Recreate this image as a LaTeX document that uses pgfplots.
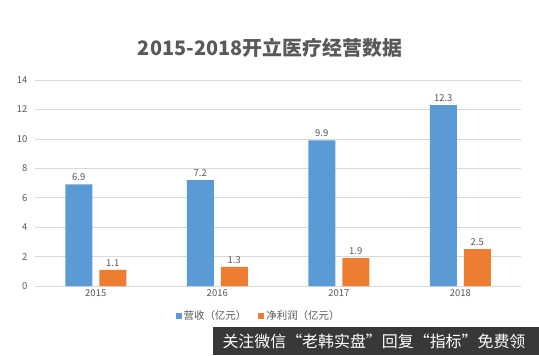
\documentclass[border=0pt]{standalone}
\usepackage{pgfplots}
\pgfplotsset{compat=1.18}
\usepackage{fontspec}
\setmainfont{Noto Sans CJK SC}
\definecolor{cblue}{HTML}{5B9BD5}
\definecolor{corange}{HTML}{ED7D31}
\definecolor{txtgray}{HTML}{595959}
\definecolor{gridgray}{HTML}{D9D9D9}
\begin{document}
\begin{tikzpicture}[x=1bp,y=1bp]
\path[use as bounding box, fill=white] (0,0) rectangle (539,355);
\node[text=txtgray, font=\fontsize{20}{22}\selectfont\bfseries] at (270,307) {2015-2018开立医疗经营数据};
\begin{axis}[
  at={(35bp,69bp)}, anchor=south west,
  scale only axis, width=486bp, height=206bp,
  ybar=7bp, bar width=27bp,
  xmin=-0.5, xmax=3.5, ymin=0, ymax=14,
  ytick={0,2,...,14},
  xtick=data, xticklabels={2015,2016,2017,2018},
  /pgf/number format/assume math mode=true,
  ticklabel style={font=\fontsize{9.5}{10}\selectfont, text=txtgray},
  yticklabel style={xshift=-4bp},
  major tick length=0pt,
  axis lines*=left,
  separate axis lines,
  x axis line style={draw=gridgray, -},
  y axis line style={draw=none},
  ymajorgrids, grid style={draw=gridgray, line width=0.6bp},
  nodes near coords,
  every node near coord/.append style={font=\fontsize{9.5}{10}\selectfont, text=txtgray},
  legend style={at={(0.46,-0.146)}, anchor=center, draw=none, fill=none, legend columns=2, font=\fontsize{10.5}{11}\selectfont, text=txtgray, /tikz/every even column/.append style={column sep=10bp}},
  legend image code/.code={\fill[#1] (0bp,-3bp) rectangle (6bp,3bp);},
  clip=false,
]
\addplot[fill=cblue, draw=none] coordinates {(0,6.9) (1,7.2) (2,9.9) (3,12.3)};
\addplot[fill=corange, draw=none] coordinates {(0,1.1) (1,1.3) (2,1.9) (3,2.5)};
\legend{营收（亿元）,净利润（亿元）}
\end{axis}
\fill[black!78] (213,0) rectangle (539,28);
\node[text=white, font=\fontsize{16}{17}\selectfont, anchor=west] at (219,14) {关注微信“老韩实盘”回复“指标”免费领};
\end{tikzpicture}
\end{document}
